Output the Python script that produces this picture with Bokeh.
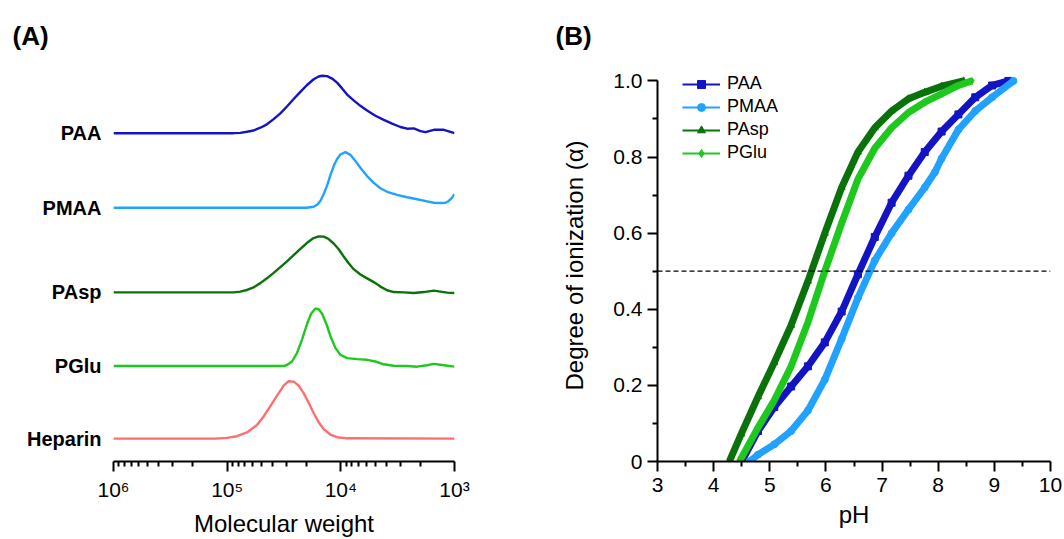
import numpy as np
from bokeh.plotting import figure
from bokeh.layouts import row
from bokeh.models import Range1d, FixedTicker, Legend, LegendItem, Span
from bokeh.embed import file_html
from bokeh.resources import INLINE

FONT = "Liberation Sans"

# ---------------- Panel A : molecular weight distributions ----------------
names_a = ["PAA", "PMAA", "PAsp", "PGlu", "Heparin"]

paa_logmw = [6.0, 5.0, 4.943, 4.885, 4.826, 4.767, 4.708, 4.650, 4.591, 4.532, 4.474,
             4.415, 4.356, 4.297, 4.239, 4.195, 4.165, 4.121, 4.077, 4.033, 3.989,
             3.945, 3.887, 3.828, 3.769, 3.696, 3.622, 3.549, 3.476, 3.417, 3.358,
             3.299, 3.255, 3.182, 3.094, 3.0]
paa_sig = [0, 0, 0, 0.3, 1.4, 2.7, 5.5, 8.9, 14.1, 19.9, 26.8,
           34.3, 41.5, 48.4, 54.2, 57.0, 57.7, 57.3, 54.9, 50.8, 45.0,
           38.8, 33.0, 27.5, 22.7, 17.5, 13.4, 9.6, 6.2, 4.5, 4.8,
           2.1, 1.0, 3.4, 3.4, 0]

pmaa_logmw = [6.0, 4.30, 4.239, 4.209, 4.180, 4.151, 4.121, 4.092, 4.063, 4.033, 4.004,
              3.960, 3.916, 3.872, 3.828, 3.769, 3.710, 3.652, 3.593, 3.505, 3.417,
              3.329, 3.241, 3.182, 3.123, 3.079, 3.050, 3.021, 3.0]
pmaa_sig = [0, 0, 1.0, 3.1, 6.9, 13.7, 22.3, 32.6, 41.9, 49.1, 53.6,
            56.0, 53.2, 47.0, 40.2, 31.9, 25.1, 19.6, 16.1, 13.0, 10.6,
            8.6, 6.5, 5.1, 4.8, 5.1, 6.9, 10.3, 13.7]

pasp_logmw = [6.0, 4.943, 4.885, 4.826, 4.767, 4.708, 4.650, 4.591, 4.532, 4.474, 4.415,
              4.356, 4.297, 4.239, 4.195, 4.151, 4.107, 4.063, 4.019, 3.975, 3.931,
              3.887, 3.828, 3.769, 3.710, 3.652, 3.593, 3.534, 3.446, 3.358, 3.270,
              3.182, 3.123, 3.065, 3.0]
pasp_sig = [0, 0, 0.7, 2.4, 5.1, 9.3, 14.1, 19.6, 25.4, 31.2, 37.4,
            43.6, 49.8, 54.6, 56.3, 56.0, 53.6, 49.1, 43.3, 36.0, 29.2,
            23.3, 17.9, 14.1, 10.3, 5.8, 2.1, 0.3, 0, -0.7, 0.3,
            1.7, 0.7, -0.3, -0.7]

pglu_logmw = [6.0, 4.50, 4.474, 4.430, 4.386, 4.341, 4.297, 4.262, 4.224, 4.195, 4.165,
              4.127, 4.092, 4.048, 4.004, 3.945, 3.857, 3.769, 3.696, 3.622, 3.534,
              3.417, 3.329, 3.241, 3.182, 3.094, 3.0]
pglu_sig = [0, 0, 1.0, 4.5, 13.0, 26.8, 42.2, 52.5, 57.7, 57.0, 52.5,
            42.2, 30.2, 18.2, 11.3, 7.9, 6.9, 6.2, 4.5, 1.7, 0.3,
            0, -0.7, 0.7, 2.1, 0.7, -0.7]

hep_logmw = [6.0, 5.1, 5.002, 4.914, 4.826, 4.738, 4.679, 4.620, 4.562, 4.503, 4.459,
             4.415, 4.371, 4.327, 4.283, 4.239, 4.195, 4.151, 4.092, 4.033, 3.945, 3.0]
hep_sig = [0, 0, 0.7, 2.4, 6.2, 13.7, 22.3, 32.6, 42.9, 53.2, 57.7,
           57.3, 53.2, 45.7, 36.0, 25.8, 16.5, 9.6, 4.1, 1.4, 0.3, 0]

mw_ticks = [1000000, 100000, 10000, 1000]
mw_tick_labels = ["10\u2076", "10\u2075", "10\u2074", "10\u00b3"]

# ---------------- Panel B : titration curves ----------------
paa_ph = [4.50, 4.79, 5.08, 5.38, 5.68, 5.98, 6.28, 6.57, 6.87, 7.17, 7.47, 7.76,
          8.06, 8.36, 8.66, 8.96, 9.25]
paa_alpha = [0, 0.08, 0.143, 0.197, 0.25, 0.313, 0.394, 0.492, 0.59, 0.68, 0.751, 0.813,
             0.867, 0.912, 0.957, 0.988, 1.0]

pmaa_ph = [4.64, 4.79, 5.08, 5.38, 5.68, 5.98, 6.28, 6.57, 6.87, 7.17, 7.47, 7.76,
           7.94, 8.06, 8.36, 8.66, 8.96, 9.34]
pmaa_alpha = [0, 0.018, 0.045, 0.08, 0.134, 0.215, 0.322, 0.43, 0.528, 0.60, 0.662, 0.72,
              0.76, 0.796, 0.872, 0.921, 0.957, 1.0]

pasp_ph = [4.28, 4.49, 4.79, 5.08, 5.38, 5.68, 5.98, 6.28, 6.57, 6.87, 7.17, 7.47,
           7.76, 8.06, 8.45]
pasp_alpha = [0, 0.072, 0.17, 0.26, 0.358, 0.474, 0.60, 0.72, 0.813, 0.877, 0.921, 0.953,
              0.97, 0.986, 1.0]

pglu_ph = [4.46, 4.79, 5.08, 5.38, 5.68, 5.98, 6.28, 6.57, 6.87, 7.17, 7.47, 7.76,
           8.06, 8.36, 8.60]
pglu_alpha = [0, 0.089, 0.161, 0.25, 0.366, 0.50, 0.626, 0.742, 0.823, 0.877, 0.917, 0.944,
              0.966, 0.988, 1.0]

half_ionization = 0.5

# ---------------- styles ----------------
C_PAA = "#1414c4"
C_PMAA = "#22a2ff"
C_PASP = "#0a720a"
C_PGLU = "#1ec81e"
C_HEP = "#ff6e6e"

offsets_a = [330, 255, 170, 96, 23]   # vertical stacking of the traces (layout)


def style_axis(ax, label_size="21px"):
    ax.axis_line_width = 2
    ax.axis_line_color = "black"
    ax.major_tick_line_width = 2
    ax.minor_tick_line_width = 2
    ax.major_tick_out = 10
    ax.major_tick_in = 0
    ax.minor_tick_out = 5
    ax.minor_tick_in = 0
    ax.major_label_text_font = FONT
    ax.major_label_text_font_size = label_size
    ax.major_label_text_color = "black"
    ax.axis_label_text_font = FONT
    ax.axis_label_text_font_size = "24px"
    ax.axis_label_text_font_style = "normal"
    ax.axis_label_text_color = "black"


def style_title(t, offset):
    t.text_font = FONT
    t.text_font_size = "26px"
    t.text_font_style = "bold"
    t.text_color = "black"
    t.align = "left"
    t.vertical_align = "middle"
    t.offset = offset
    t.standoff = 35


# ---------------- figure A ----------------
p1 = figure(width=540, height=539, x_axis_type="log",
            x_range=Range1d(1e6, 1e3), y_range=Range1d(0, 394),
            output_backend="svg", toolbar_location=None,
            min_border_left=113, min_border_right=86,
            min_border_top=69, min_border_bottom=76, title="(A)")
p1.outline_line_color = None
p1.grid.visible = False

series_a = [(paa_logmw, paa_sig, C_PAA), (pmaa_logmw, pmaa_sig, C_PMAA),
            (pasp_logmw, pasp_sig, C_PASP), (pglu_logmw, pglu_sig, C_PGLU),
            (hep_logmw, hep_sig, C_HEP)]
for (lm, sg, col), off in zip(series_a, offsets_a):
    p1.line(10 ** np.array(lm), off + np.array(sg), line_color=col, line_width=2.4,
            line_join="round")

xa = p1.xaxis[0]
style_axis(xa)
xa.ticker = FixedTicker(ticks=mw_ticks,
                        minor_ticks=[m * 10 ** e for e in (3, 4, 5) for m in range(2, 10)])
xa.major_label_overrides = dict(zip(mw_ticks, mw_tick_labels))
xa.axis_label = "Molecular weight"
xa.major_label_standoff = 6
xa.axis_label_standoff = 6

ya = p1.yaxis[0]
ya.ticker = FixedTicker(ticks=offsets_a, minor_ticks=[])
ya.major_label_overrides = dict(zip(offsets_a, names_a))
ya.axis_line_color = None
ya.major_tick_line_color = None
ya.minor_tick_line_color = None
ya.major_tick_out = 0
ya.major_label_standoff = 12
ya.major_label_text_font = FONT
ya.major_label_text_font_size = "20px"
ya.major_label_text_font_style = "bold"
ya.major_label_text_color = "black"

style_title(p1.title, -101)

# ---------------- figure B ----------------
p2 = figure(width=524, height=539, x_range=Range1d(3, 10), y_range=Range1d(0, 1.03),
            output_backend="svg", toolbar_location=None,
            min_border_left=117, min_border_right=14,
            min_border_top=69, min_border_bottom=76, title="(B)")
p2.outline_line_color = None
p2.grid.visible = False

p2.add_layout(Span(location=half_ionization, dimension="width", line_color="black",
                   line_width=1.3, line_dash="5 3"))

series_b = [("PAA", paa_ph, paa_alpha, C_PAA, "square"),
            ("PMAA", pmaa_ph, pmaa_alpha, C_PMAA, "circle"),
            ("PAsp", pasp_ph, pasp_alpha, C_PASP, "triangle"),
            ("PGlu", pglu_ph, pglu_alpha, C_PGLU, "diamond")]
items = []
for name, xs, ys, col, mk in series_b:
    p2.line(xs, ys, line_color=col, line_width=7, line_join="round")
    thin = p2.line(xs, ys, line_color=col, line_width=2)
    mark = p2.scatter(xs, ys, marker=mk, size=7, fill_color=col, line_color=col)
    items.append(LegendItem(label=name, renderers=[thin, mark]))

legend = Legend(items=items, location=(25, 298), padding=0, margin=0, spacing=2,
                label_height=20, glyph_height=20, glyph_width=38, label_standoff=7,
                label_text_font=FONT, label_text_font_size="18px",
                label_text_color="black",
                background_fill_alpha=0, border_line_color=None)
p2.add_layout(legend)

xb = p2.xaxis[0]
style_axis(xb)
xb.ticker = FixedTicker(ticks=[3, 4, 5, 6, 7, 8, 9, 10],
                        minor_ticks=[3.5, 4.5, 5.5, 6.5, 7.5, 8.5, 9.5])
xb.axis_label = "pH"
xb.major_label_standoff = 6
xb.axis_label_standoff = 6

yb = p2.yaxis[0]
style_axis(yb)
yb.bounds = (0, 1)
yb.ticker = FixedTicker(ticks=[0, 0.2, 0.4, 0.6, 0.8, 1.0],
                        minor_ticks=[0.1, 0.3, 0.5, 0.7, 0.9])
yb.major_label_overrides = {0: "0", 0.2: "0.2", 0.4: "0.4", 0.6: "0.6", 0.8: "0.8", 1: "1.0"}
yb.axis_label = "Degree of ionization (\u03b1)"
yb.major_label_standoff = 5
yb.axis_label_standoff = 22

style_title(p2.title, -102)

layout = row(p1, p2)
open("out.html", "w").write(file_html(layout, INLINE))
